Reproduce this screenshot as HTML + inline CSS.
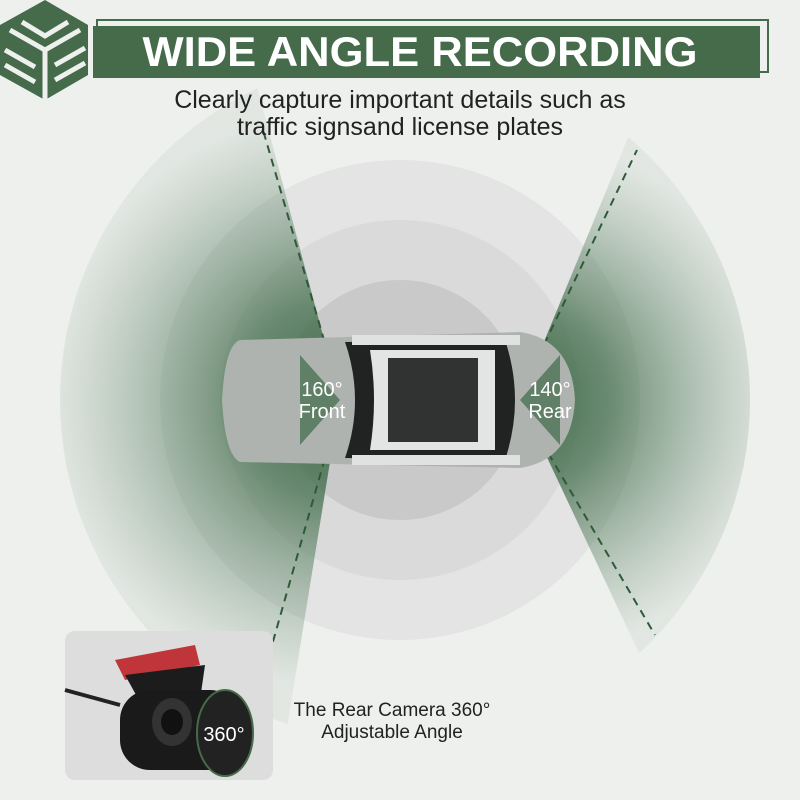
<!DOCTYPE html>
<html><head><meta charset="utf-8"><style>
html,body{margin:0;padding:0;width:800px;height:800px;overflow:hidden;background:#eef0ee}
svg{display:block}
text{font-family:"Liberation Sans","DejaVu Sans",sans-serif}
</style></head><body>
<svg width="800" height="800" viewBox="0 0 800 800" xmlns="http://www.w3.org/2000/svg">
<defs>
<radialGradient id="gl" cx="340" cy="400" r="290" gradientUnits="userSpaceOnUse">
<stop offset="0" stop-color="#3f6a48" stop-opacity="1"/>
<stop offset="0.35" stop-color="#4d7556" stop-opacity="0.8"/>
<stop offset="1" stop-color="#86a28b" stop-opacity="0.12"/>
</radialGradient>
<radialGradient id="gr" cx="520" cy="400" r="260" gradientUnits="userSpaceOnUse">
<stop offset="0" stop-color="#3f6a48" stop-opacity="1"/>
<stop offset="0.35" stop-color="#4d7556" stop-opacity="0.8"/>
<stop offset="1" stop-color="#86a28b" stop-opacity="0.12"/>
</radialGradient>
<clipPath id="cc"><circle cx="405" cy="400" r="345"/></clipPath>
</defs>
<rect width="800" height="800" fill="#eef0ee"/>
<circle cx="400" cy="400" r="240" fill="#e3e4e3"/>
<circle cx="400" cy="400" r="180" fill="#d9dad9"/>
<circle cx="400" cy="400" r="120" fill="#c8c9c8"/>
<g clip-path="url(#cc)">
<polygon points="340,400 250,60 -20,60 -20,740 285,740" fill="url(#gl)"/>
<polygon points="520,400 660,60 820,60 820,740 680,740" fill="url(#gr)"/>
</g>
<g stroke="#2f5a38" stroke-width="2" stroke-dasharray="8,6" fill="none">
<line x1="340" y1="395" x2="263" y2="130"/>
<line x1="340" y1="405" x2="272" y2="645"/>
<line x1="520" y1="395" x2="637" y2="150"/>
<line x1="520" y1="405" x2="655" y2="635"/>
</g>
<!-- car -->
<g>
<path d="M240,340 Q225,345 222,400 Q225,455 240,462 L520,468 Q572,460 575,400 Q572,340 520,332 Z" fill="#aeb3b0"/>
<path d="M345,342 L505,340 Q525,400 505,460 L345,458 Q365,400 345,342Z" fill="#202322"/>
<path d="M370,350 L495,350 L495,450 L370,450 Q378,400 370,350Z" fill="#e2e5e3"/>
<rect x="388" y="358" width="90" height="84" fill="#303332"/>
<path d="M352,335 L520,335 L520,345 L352,345Z" fill="#dfe2e0"/>
<path d="M352,455 L520,455 L520,465 L352,465Z" fill="#dfe2e0"/>
</g>
<polygon points="340,400 300,355 300,445" fill="#3f6a48" opacity="0.7"/>
<polygon points="520,400 560,355 560,445" fill="#3f6a48" opacity="0.7"/>
<text x="322" y="396" font-size="20" fill="#fff" text-anchor="middle">160°</text>
<text x="322" y="418" font-size="20" fill="#fff" text-anchor="middle">Front</text>
<text x="550" y="396" font-size="20" fill="#fff" text-anchor="middle">140°</text>
<text x="550" y="418" font-size="20" fill="#fff" text-anchor="middle">Rear</text>
<!-- header -->
<rect x="97" y="20" width="671" height="52" fill="none" stroke="#456b4a" stroke-width="2"/>
<rect x="93" y="26" width="667" height="52" fill="#456b4a"/>
<text x="420" y="66" font-size="42" font-weight="bold" fill="#fff" text-anchor="middle" textLength="555" lengthAdjust="spacingAndGlyphs">WIDE ANGLE RECORDING</text>
<!-- logo -->
<polygon points="45,0 88,25 88,75 45,100 0,75 0,25" fill="#456b4a"/>
<g stroke="#eef0ee" stroke-width="5" fill="none">
<polyline points="10,30 45,50 80,30"/>
<polyline points="22,22 45,36 68,22"/>
<line x1="45" y1="50" x2="45" y2="100"/>
<line x1="55" y1="65" x2="85" y2="48"/>
<line x1="55" y1="80" x2="85" y2="63"/>
<line x1="5" y1="50" x2="35" y2="67"/>
<line x1="5" y1="65" x2="35" y2="82"/>
</g>
<text x="400" y="108" font-size="25" fill="#222" text-anchor="middle">Clearly capture important details such as</text>
<text x="400" y="135" font-size="25" fill="#222" text-anchor="middle">traffic signsand license plates</text>
<!-- camera inset -->
<rect x="65" y="631" width="208" height="149" rx="10" fill="#dcdddc"/>
<path d="M65,690 L120,705" stroke="#222" stroke-width="4"/>
<polygon points="115,660 195,645 200,665 125,680" fill="#c0353a"/>
<path d="M125,675 L205,665 L200,700 L150,720 Z" fill="#1c1c1c"/>
<rect x="120" y="690" width="120" height="80" rx="30" fill="#1a1a1a"/>
<ellipse cx="172" cy="722" rx="20" ry="24" fill="#333"/>
<ellipse cx="172" cy="722" rx="11" ry="13" fill="#111"/>
<ellipse cx="225" cy="733" rx="28" ry="43" fill="#222" stroke="#456b4a" stroke-width="2"/>
<text x="224" y="741" font-size="20" fill="#fff" text-anchor="middle">360°</text>
<text x="392" y="716" font-size="19" fill="#222" text-anchor="middle">The Rear Camera 360°</text>
<text x="392" y="738" font-size="19" fill="#222" text-anchor="middle">Adjustable Angle</text>
</svg>
</body></html>
